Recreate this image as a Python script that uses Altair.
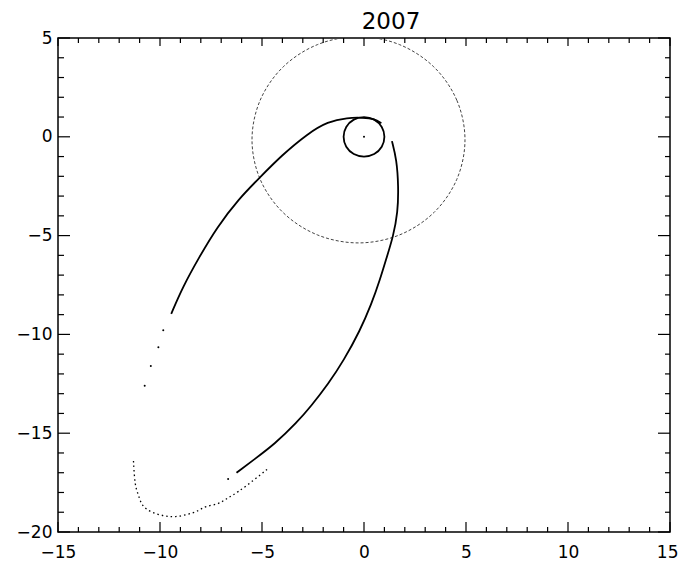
import altair as alt
import pandas as pd

# ---- data ----
earth_x = [1.0, 0.87, 0.5, 0.0, -0.5, -0.87, -1.0, -0.87, -0.5, 0.0, 0.5, 0.87]
earth_y = [0.0, 0.5, 0.87, 1.0, 0.87, 0.5, 0.0, -0.5, -0.87, -1.0, -0.87, -0.5]

jup_x = [4.95, 4.55, 3.42, 1.73, -0.27, -2.27, -3.96, -5.09, -5.49, -5.09, -3.96, -2.27, -0.27, 1.73, 3.42, 4.55]
jup_y = [-0.15, 1.85, 3.54, 4.67, 5.07, 4.67, 3.54, 1.85, -0.15, -2.15, -3.84, -4.97, -5.37, -4.97, -3.84, -2.15]

right_x = [1.37, 1.60, 1.69, 1.66, 1.42, 1.16, 0.77, 0.37, -0.20, -0.99, -1.76, -2.58, -3.30, -4.38, -5.36, -6.25]
right_y = [-0.22, -1.15, -2.50, -3.83, -5.08, -5.94, -7.28, -8.45, -9.82, -11.31, -12.52, -13.61, -14.47, -15.55, -16.31, -17.00]

left_x = [-9.45, -8.89, -8.08, -7.20, -6.15, -5.09, -4.05, -2.75, -1.78, -0.80, -0.05, 0.52, 0.85]
left_y = [-8.96, -7.61, -6.09, -4.57, -3.15, -2.04, -0.95, 0.17, 0.77, 0.97, 0.97, 0.91, 0.68]

arc_x = [-11.30, -11.23, -11.06, -10.90, -10.41, -9.75, -9.26, -8.61, -8.12, -7.79, -7.14, -6.81, -6.49, -5.83, -4.69]
arc_y = [-16.41, -17.68, -18.10, -18.69, -19.03, -19.20, -19.25, -19.11, -18.94, -18.69, -18.60, -18.35, -18.18, -17.73, -16.78]

dot_x = [-9.84, -10.08, -10.45, -10.75, -6.66, 0.0]
dot_y = [-9.79, -10.65, -11.60, -12.60, -17.32, 0.0]

x_major = [-15, -10, -5, 0, 5, 10, 15]
x_minor = [v for v in range(-15, 16) if v % 5 != 0]
y_major = [-20, -15, -10, -5, 0, 5]
y_minor = [v for v in range(-20, 6) if v % 5 != 0]

W, H = 612, 494

xs = alt.Scale(domain=[-15, 15], nice=False, zero=False)
ys = alt.Scale(domain=[-20, 5], nice=False, zero=False)
xaxis = alt.Axis(
    values=x_major, ticks=False, tickSize=0, domain=False, grid=False,
    title=None, labelPadding=12, labelFlush=False, labelOverlap=False, labelBound=False,
    labelAlign=alt.condition("datum.value == 15", alt.value("right"), alt.value("center")),
    labelOffset=alt.condition("datum.value == 15", alt.value(8), alt.value(0)),
)
yaxis = alt.Axis(values=y_major, ticks=False, tickSize=0, domain=False, grid=False,
                 title=None, labelPadding=6, labelOverlap=False, labelBound=False)


def X(f):
    return alt.X(f, type="quantitative", scale=xs, axis=xaxis)


def Y(f):
    return alt.Y(f, type="quantitative", scale=ys, axis=yaxis)


def df_xy(xv, yv):
    return pd.DataFrame({"x": xv, "y": yv, "i": list(range(len(xv)))})


jup = alt.Chart(df_xy(jup_x, jup_y)).mark_line(
    interpolate="cardinal-closed", strokeDash=[3, 2], strokeWidth=1, color="#444444", clip=True
).encode(x=X("x"), y=Y("y"), order="i:Q")

earth = alt.Chart(df_xy(earth_x, earth_y)).mark_line(
    interpolate="cardinal-closed", strokeWidth=1.8, color="black"
).encode(x=X("x"), y=Y("y"), order="i:Q")

right = alt.Chart(df_xy(right_x, right_y)).mark_line(
    interpolate="basis", strokeWidth=1.8, color="black"
).encode(x=X("x"), y=Y("y"), order="i:Q")

left = alt.Chart(df_xy(left_x, left_y)).mark_line(
    interpolate="basis", strokeWidth=1.8, color="black"
).encode(x=X("x"), y=Y("y"), order="i:Q")

arc = alt.Chart(df_xy(arc_x, arc_y)).mark_line(
    interpolate="basis", strokeWidth=1.3, color="black", strokeDash=[1.5, 3]
).encode(x=X("x"), y=Y("y"), order="i:Q")

dots = alt.Chart(df_xy(dot_x, dot_y)).mark_circle(size=4, color="black", opacity=1).encode(
    x=X("x"), y=Y("y")
)

layers = [jup, earth, right, left, arc, dots]


def vticks(vals, y0, y1):
    return alt.Chart(pd.DataFrame({"x": vals})).mark_rule(color="black", strokeWidth=1.2).encode(
        x=X("x"), y=alt.value(y0), y2=alt.value(y1)
    )


def hticks(vals, x0, x1):
    return alt.Chart(pd.DataFrame({"y": vals})).mark_rule(color="black", strokeWidth=1.2).encode(
        y=Y("y"), x=alt.value(x0), x2=alt.value(x1)
    )


layers += [
    vticks(x_major, H, H - 10), vticks(x_minor, H, H - 5),
    vticks(x_major, 0, 8), vticks(x_minor, 0, 5),
    hticks(y_major, 0, 12), hticks(y_minor, 0, 6),
    hticks(y_major, W, W - 12), hticks(y_minor, W, W - 5),
]

chart = alt.layer(*layers).properties(
    width=W, height=H,
    title=alt.TitleParams("2007", font="DejaVu Sans", fontSize=23, fontWeight="normal",
                          color="black", dx=27, dy=8, offset=3),
    autosize=alt.AutoSizeParams(type="none"),
    padding={"left": 58, "top": 38, "right": 8, "bottom": 31},
    background="white",
).configure_view(stroke="black", strokeWidth=1.5).configure_axis(
    labelFont="DejaVu Sans", labelFontSize=17, labelColor="black"
)

chart.save("out.html", embed_options={"renderer": "svg", "actions": False})
